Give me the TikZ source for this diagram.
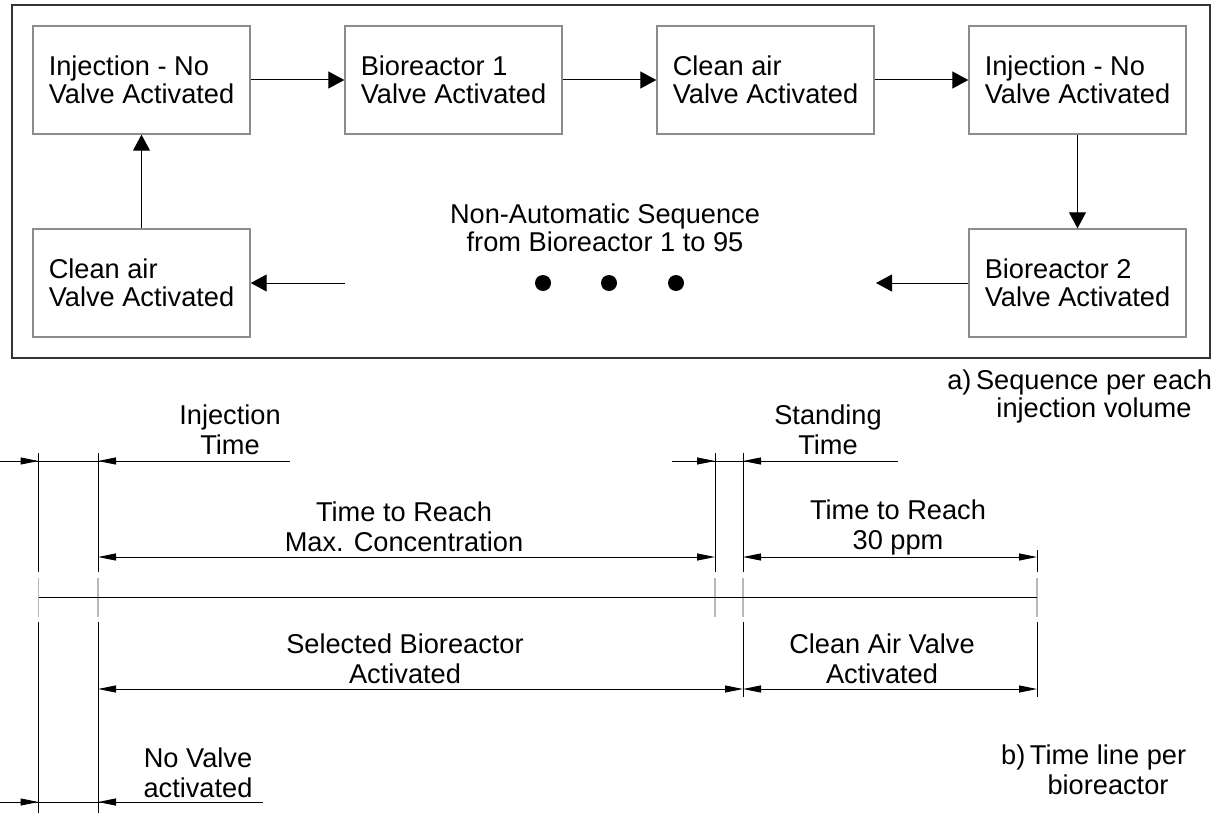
\documentclass[tikz,border=0pt]{standalone}
\usepackage{fontspec}
\setmainfont{Liberation Sans}
\usetikzlibrary{arrows.meta,positioning}

\definecolor{boxgray}{rgb}{0.55,0.55,0.55}
\definecolor{tickgray}{rgb}{0.72,0.72,0.72}

\tikzset{
  stepbox/.style={draw=boxgray, line width=0.7pt, minimum width=108.5pt,
    minimum height=54pt, align=left, inner sep=0pt},
  flow/.style={-{Triangle[length=8pt,width=8.5pt]}, line width=0.5pt},
  markline/.style={black, line width=0.5pt},
  tickline/.style={tickgray, line width=0.8pt},
  dimtip/.style={-{Triangle[length=9pt,width=3.5pt]}, line width=0.5pt},
  dimboth/.style={{Triangle[length=9pt,width=3.5pt]}-{Triangle[length=9pt,width=3.5pt]}, line width=0.5pt},
  dimlabel/.style={align=center, inner sep=0pt, font=\fontsize{13.6}{15}\selectfont}
}

\begin{document}
\begin{tikzpicture}[x=0.5pt,y=-0.5pt, font=\fontsize{13.6}{14}\selectfont]
        \useasboundingbox (0,0) rectangle (1225,813);

        % a) sequence
        \draw[black!80, line width=0.7pt] (12,5) rectangle (1210,358);

        \node[stepbox] (inj1) at (141.5,80) {Injection - No\\Valve Activated};
        \node[stepbox] (bio1) at (453.5,80) {Bioreactor 1\\Valve Activated};
        \node[stepbox] (clean1) at (765.5,80) {Clean air\\Valve Activated};
        \node[stepbox] (inj2) at (1077.5,80) {Injection - No\\Valve Activated};
        \node[stepbox] (bio2) at (1077.5,283) {Bioreactor 2\\Valve Activated};
        \node[stepbox] (clean2) at (141.5,283) {Clean air\\Valve Activated};

        \coordinate (gapR) at (876,283);
        \coordinate (gapL) at (345,283);

        \draw[flow] (inj1) -- (bio1);
        \draw[flow] (bio1) -- (clean1);
        \draw[flow] (clean1) -- (inj2);
        \draw[flow] (inj2) -- (bio2);
        \draw[flow] (bio2.west) -- (gapR);
        \draw[flow] (gapL) -- (clean2.east);
        \draw[flow] (clean2) -- (inj1);

        \node[align=center, inner sep=0pt] (nonauto) at (605,228) {Non-Automatic Sequence\\from Bioreactor 1 to 95};
        \foreach \x in {543,609,676}
            \fill (\x,283) circle (4pt);

        \node[align=center, inner sep=0pt] (capa) at (1094,396) {\llap{a)\,}Sequence per each\\injection volume};

        % b) time line
        \foreach \x in {38.5,98,715,743}
            \draw[markline] (\x,453) -- (\x,572);
        \draw[markline] (1037,550) -- (1037,572);
        \foreach \x in {38.5,98,715,743,1037}
            \draw[tickline] (\x,578) -- (\x,617);
        \draw[markline] (38.5,622) -- (38.5,813);
        \draw[markline] (98,622) -- (98,813);
        \draw[markline] (743,622) -- (743,697);
        \draw[markline] (1037,622) -- (1037,697);
        \draw[markline] (38.5,597) -- (1037,597);

        \draw[markline] (0,461) -- (290,461);
        \draw[dimtip] (10,461) -- (38.5,461);
        \draw[dimtip] (130,461) -- (98,461);
        \draw[markline] (672,461) -- (898,461);
        \draw[dimtip] (680,461) -- (715,461);
        \draw[dimtip] (780,461) -- (743,461);
        \draw[dimboth] (98,557) -- (715,557);
        \draw[dimboth] (743,557) -- (1037,557);
        \draw[dimboth] (98,689) -- (743,689);
        \draw[dimboth] (743,689) -- (1037,689);
        \draw[markline] (0,802) -- (263,802);
        \draw[dimtip] (10,802) -- (38.5,802);
        \draw[dimtip] (130,802) -- (98,802);

        \node[dimlabel] (injtime) at (230,430) {Injection\\Time};
        \node[dimlabel] (standtime) at (828,430) {Standing\\Time};
        \node[dimlabel] (maxconc) at (404,527) {Time to Reach\\Max. Concentration};
        \node[dimlabel] (ppm) at (898,527) {Time to Reach\\30 ppm};
        \node[dimlabel] (selbio) at (405,659) {Selected Bioreactor\\Activated};
        \node[dimlabel] (cleanair) at (882,659) {Clean Air Valve\\Activated};
        \node[dimlabel] (novalve) at (198,773) {No Valve\\activated};

        \node[dimlabel] (capb) at (1108,770) {\llap{b)\,}Time line per\\bioreactor};
    \end{tikzpicture}
\end{document}
